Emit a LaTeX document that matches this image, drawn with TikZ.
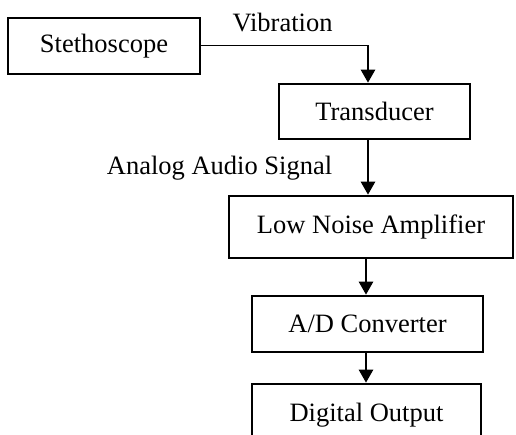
\documentclass[tikz,border=0pt]{standalone}
\usepackage{fontspec}
\setmainfont{Liberation Serif}
\usetikzlibrary{arrows.meta}
\begin{document}
\begin{tikzpicture}[x=1pt,y=1pt,
  blk/.style={draw=black,line width=2.6pt,rectangle,inner sep=0pt,font=\fontsize{26.5}{30}\selectfont},
  lbl/.style={inner sep=0pt,anchor=base,font=\fontsize{26.5}{30}\selectfont},
  arr/.style={line width=2.6pt,-{Triangle[width=14pt,length=13pt]}},
  thinline/.style={line width=1pt}]
\useasboundingbox (0,0) rectangle (516,434);
\clip (0,0) rectangle (516,434);
\node[blk,minimum width=192pt,minimum height=56pt] (st) at (104,388) {Stethoscope};
\node[blk,minimum width=191pt,minimum height=55pt] (tr) at (374.5,322.5) {Transducer};
\node[blk,minimum width=284pt,minimum height=62pt] (lna) at (371,207) {Low Noise Amplifier};
\node[blk,minimum width=231pt,minimum height=56pt] (adc) at (367.5,110) {A/D Converter};
\node[blk,minimum width=229pt,minimum height=60pt] (do) at (366.5,20) {};
\node[lbl] (dot) at (366.5,13) {Digital Output};
\node[lbl] (vib) at (282.5,402) {Vibration};
\node[lbl] (ana) at (219.5,259) {Analog Audio Signal};
\coordinate (v) at (368,388);
\draw[thinline] (st.east) -- (v);
\draw[arr] ([yshift=0.5pt]v) -- (tr.north -| v);
\draw[arr] (tr.south -| v) -- (lna.north -| v);
\coordinate (w) at (366,0);
\draw[arr] (lna.south -| w) -- (adc.north -| w);
\draw[arr] (adc.south -| w) -- (do.north -| w);
\end{tikzpicture}
\end{document}
